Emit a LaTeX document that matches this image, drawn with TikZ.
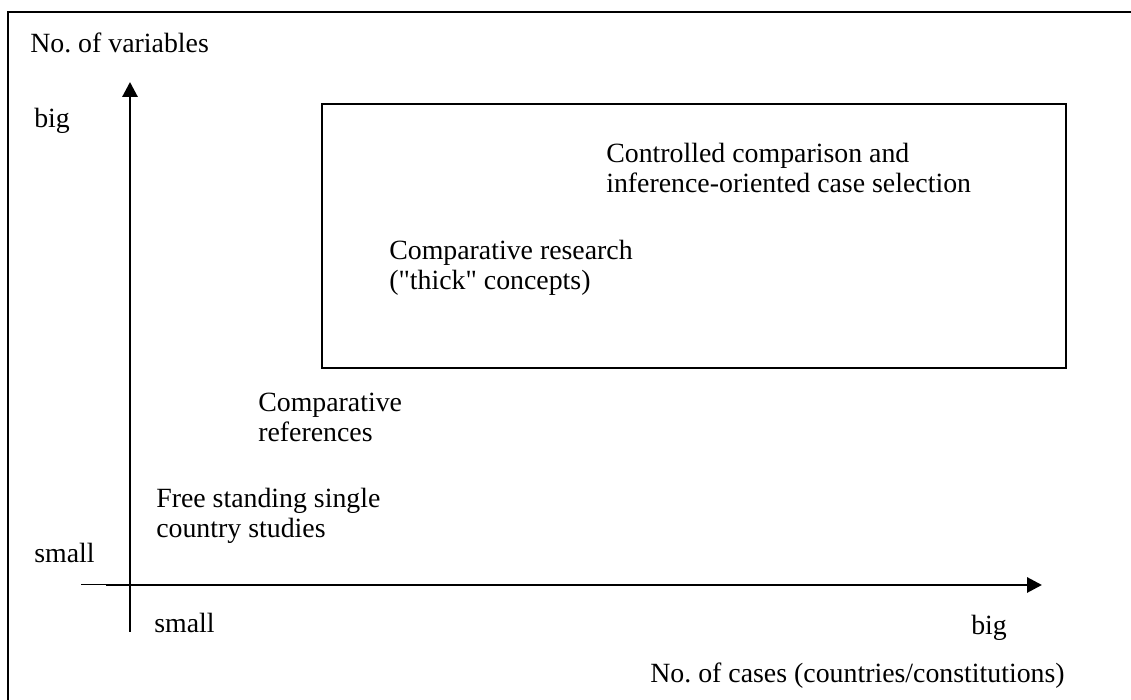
\documentclass[tikz,border=0pt]{standalone}
\usepackage{fontspec}
\setmainfont{Liberation Serif}
\usepackage{tikz}
\usetikzlibrary{arrows.meta, positioning, calc}
\tikzset{
    lbl/.style={anchor=base west, inner sep=0pt, align=left, font=\fontsize{19.8pt}{21.7pt}\selectfont},
    axisLine/.style={-{Triangle[length=3.75mm, width=3.75mm]}, line width=2.1pt},
    frameLine/.style={line width=1.4pt}
}
\begin{document}
\begin{tikzpicture}
    \useasboundingbox (0,0) rectangle (28.275,17.5);
    \clip (0,0) rectangle (28.275,17.5);
    % --- Frame ---
    \draw[frameLine] (0.2,-1) rectangle (30,17.2);
    % --- Axes ---
    \coordinate (ybot) at (3.25,1.7); \coordinate (ytop) at (3.25,15.45);
    \coordinate (xtail) at (2.025,2.875); \coordinate (xbeg) at (2.65,2.875);
    \coordinate (xtip) at (26.05,2.875);
    \draw[axisLine] (ybot)--(ytop);
    \draw[line width=0.7pt] (xtail)--(xbeg);
    \draw[axisLine] (xbeg)--(xtip);
    % --- Axis labels ---
    \node[lbl] (ylab) at (0.75,16.175) {No.\ of variables};
    \node[lbl] (ybig) at (0.85,14.3) {big};
    \node[lbl] (ysmall) at (0.85,3.425) {small};
    \node[lbl] (xsmall) at (3.85,1.675) {small};
    \node[lbl] (xbig) at (24.275,1.625) {big};
    \node[lbl, anchor=base east] (xlab) at (26.625,0.425) {No.\ of cases (countries/constitutions)};
    % --- Region box ---
    \coordinate (boxSW) at (8.05,8.3); \coordinate (boxNE) at (26.65,14.9);
    \draw[frameLine] (boxSW) rectangle (boxNE);
    % --- Research types (anchored at last line) ---
    \node[lbl] (ctrl) at (15.15,12.675) {Controlled comparison and\\inference-oriented case selection};
    \node[lbl] (thick) at (9.725,10.25) {Comparative research\\(\textquotedbl thick\textquotedbl\ concepts)};
    \node[lbl] (refs) at (6.45,6.45) {Comparative\\references};
    \node[lbl] (single) at (3.9,4.05) {Free standing single\\country studies};
\end{tikzpicture}
\end{document}
